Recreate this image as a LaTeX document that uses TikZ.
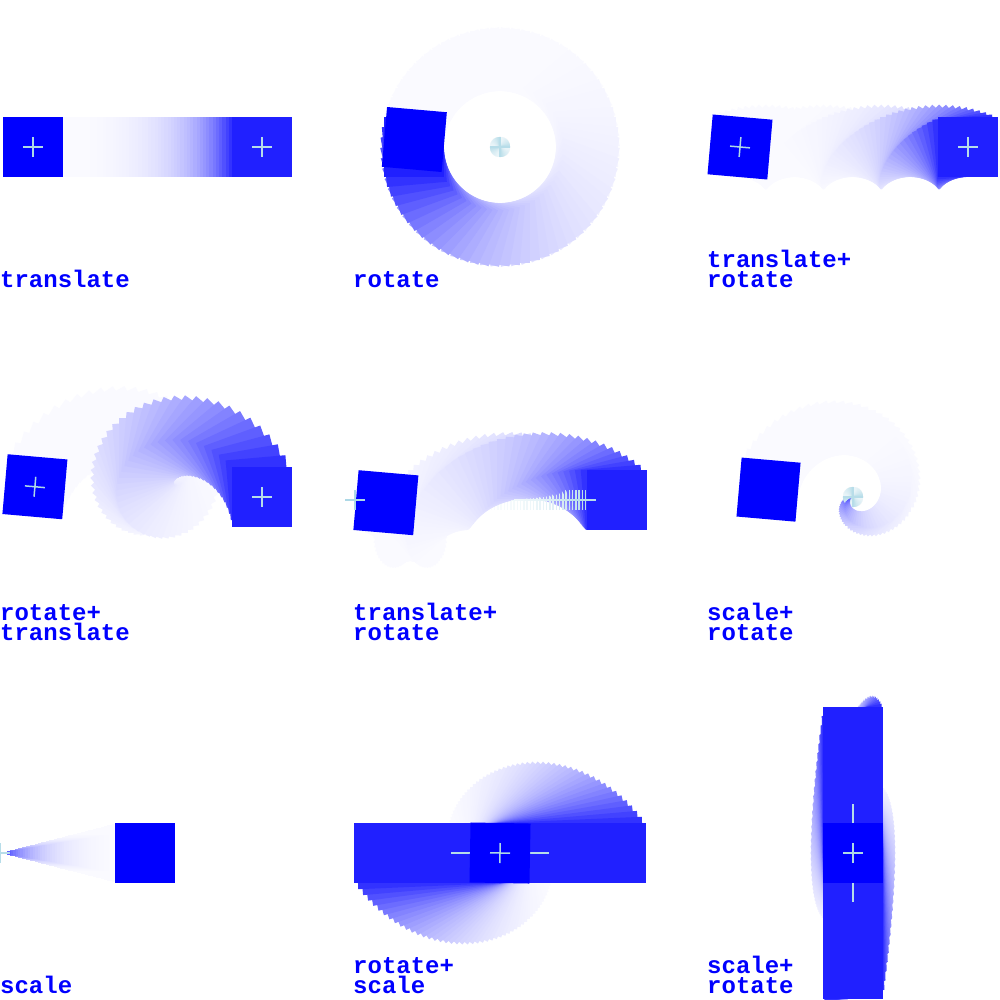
\documentclass[tikz,border=0pt]{standalone}
\usepackage{fontspec}
\newfontfamily\lblfont{Liberation Mono}
\definecolor{lb}{RGB}{173,216,230}
\tikzset{
  crs/.style={line width=1.5pt},
  lbl/.style={anchor=base west, inner sep=0pt, text height=15pt, text depth=1pt, text=blue, font=\lblfont\bfseries\fontsize{24}{24}\selectfont}
}
\begin{document}
\begin{tikzpicture}[x=1pt,y=-1pt]
\useasboundingbox (0,0) rectangle (1000,1000);
\fill[white] (0,0) rectangle (1000,1000);
\begin{scope}
\clip (0,0) rectangle (1000,1000);
% ---------- panel 1: translate
\foreach \k in {1,...,72}{
  \pgfmathsetmacro\tv{\k/72}
  \pgfmathsetmacro\pv{max(87.5*pow(0.92,72-\k),2)}
  \begin{scope}[shift={(29.8+232.2*\tv,147)}]
    \fill[blue!\pv!white] (-30,-30) -- (30,-30) -- (30,30) -- (-30,30) -- cycle;
    \draw[crs, lb!\pv!white] (-10,0) -- (10,0) (0,-10) -- (0,10);
  \end{scope}
}
\begin{scope}[shift={(33,147)}]
  \fill[blue] (-30,-30) -- (30,-30) -- (30,30) -- (-30,30) -- cycle;
  \draw[crs, lb] (-10,0) -- (10,0) (0,-10) -- (0,10);
\end{scope}
% ---------- panel 2: rotate
\foreach \k in {1,...,72}{
  \pgfmathsetmacro\tv{\k/72}
  \pgfmathsetmacro\pv{max(87.5*pow(0.92,72-\k),2)}
  \begin{scope}[shift={(500,147)}, rotate=-180-360*\tv]
    \fill[blue!\pv!white, shift={(86,0)}] (-30,-30) -- (30,-30) -- (30,30) -- (-30,30) -- cycle;
    \draw[crs, lb!\pv!white] (-10,0) -- (10,0) (0,-10) -- (0,10);
  \end{scope}
}
\begin{scope}[shift={(500,147)}, rotate=-185, shift={(86,0)}]
  \fill[blue] (-30,-30) -- (30,-30) -- (30,30) -- (-30,30) -- cycle;
\end{scope}
% ---------- panel 3: translate + rotate
\foreach \k in {1,...,72}{
  \pgfmathsetmacro\tv{\k/72}
  \pgfmathsetmacro\pv{max(87.5*pow(0.92,72-\k),2)}
  \begin{scope}[shift={(736.8+231.2*\tv,147)}, rotate=-360*\tv]
    \fill[blue!\pv!white] (-30,-30) -- (30,-30) -- (30,30) -- (-30,30) -- cycle;
    \draw[crs, lb!\pv!white] (-10,0) -- (10,0) (0,-10) -- (0,10);
  \end{scope}
}
\begin{scope}[shift={(740,147)}, rotate=-5]
  \fill[blue] (-30,-30) -- (30,-30) -- (30,30) -- (-30,30) -- cycle;
  \draw[crs, lb] (-10,0) -- (10,0) (0,-10) -- (0,10);
\end{scope}
% ---------- panel 4: rotate + translate
\foreach \k in {1,...,72}{
  \pgfmathsetmacro\tv{\k/72}
  \pgfmathsetmacro\pv{max(87.5*pow(0.92,72-\k),2)}
  \begin{scope}[shift={(152,500)}, rotate=-360*\tv, shift={(-121+231*\tv,-3)}]
    \fill[blue!\pv!white] (-30,-30) -- (30,-30) -- (30,30) -- (-30,30) -- cycle;
    \draw[crs, lb!\pv!white] (-10,0) -- (10,0) (0,-10) -- (0,10);
  \end{scope}
}
\begin{scope}[shift={(152,500)}, rotate=-5, shift={(-117.8,-3)}]
  \fill[blue] (-30,-30) -- (30,-30) -- (30,30) -- (-30,30) -- cycle;
  \draw[crs, lb] (-10,0) -- (10,0) (0,-10) -- (0,10);
\end{scope}
% ---------- panel 5: translate + rotate (offset square)
\foreach \k in {1,...,72}{
  \pgfmathsetmacro\tv{\k/72}
  \pgfmathsetmacro\pv{max(87.5*pow(0.92,72-\k),2)}
  \begin{scope}[shift={(351.8+233.8*\tv,500)}]
    \fill[blue!\pv!white, rotate=-360*\tv, shift={(31,0)}] (-30,-30) -- (30,-30) -- (30,30) -- (-30,30) -- cycle;
    \draw[crs, lb!\pv!white] (-10,0) -- (10,0) (0,-10) -- (0,10);
  \end{scope}
}
\begin{scope}[shift={(355,500)}]
  \fill[blue, rotate=-5, shift={(31,0)}] (-30,-30) -- (30,-30) -- (30,30) -- (-30,30) -- cycle;
  \draw[crs, lb] (-10,0) -- (10,0) (0,-10) -- (0,10);
\end{scope}
% ---------- panel 6: scale + rotate (spiral)
\foreach \k in {1,...,72}{
  \pgfmathsetmacro\tv{\k/72}
  \pgfmathsetmacro\pv{max(87.5*pow(0.92,72-\k),2)}
  \begin{scope}[shift={(853,497)}, rotate=-180-360*\tv]
    \fill[blue!\pv!white, scale=1-0.995*\tv, shift={(86,0)}] (-30,-30) -- (30,-30) -- (30,30) -- (-30,30) -- cycle;
    \draw[crs, lb!\pv!white] (-10,0) -- (10,0) (0,-10) -- (0,10);
  \end{scope}
}
\begin{scope}[shift={(853,497)}, rotate=-185, scale=0.986, shift={(86,0)}]
  \fill[blue] (-30,-30) -- (30,-30) -- (30,30) -- (-30,30) -- cycle;
\end{scope}
% ---------- panel 7: scale
\foreach \k in {1,...,72}{
  \pgfmathsetmacro\tv{\k/72}
  \pgfmathsetmacro\pv{max(87.5*pow(0.92,72-\k),2)}
  \fill[blue!\pv!white, shift={(0,853)}, scale=1-0.995*\tv, shift={(147,0)}] (-30,-30) -- (30,-30) -- (30,30) -- (-30,30) -- cycle;
  \draw[crs, lb!\pv!white, shift={(0,853)}] (-10,0) -- (10,0) (0,-10) -- (0,10);
}
\begin{scope}[shift={(0,853)}, scale=0.986, shift={(147,0)}]
  \fill[blue] (-30,-30) -- (30,-30) -- (30,30) -- (-30,30) -- cycle;
\end{scope}
% ---------- panel 8: rotate + scale
\foreach \k in {1,...,72}{
  \pgfmathsetmacro\tv{\k/72}
  \pgfmathsetmacro\pv{max(87.5*pow(0.92,72-\k),2)}
  \pgfmathsetmacro\sv{pow(4.88,\tv)}
  \begin{scope}[shift={(500,853)}, rotate=-180*\tv, xscale=\sv]
    \fill[blue!\pv!white] (-30,-30) -- (30,-30) -- (30,30) -- (-30,30) -- cycle;
    \draw[crs, lb!\pv!white] (-10,0) -- (10,0) (0,-10) -- (0,10);
  \end{scope}
}
\begin{scope}[shift={(500,853)}, rotate=-1]
  \fill[blue] (-30,-30) -- (30,-30) -- (30,30) -- (-30,30) -- cycle;
  \draw[crs, lb] (-10,0) -- (10,0) (0,-10) -- (0,10);
\end{scope}
% ---------- panel 9: scale + rotate
\foreach \k in {1,...,72}{
  \pgfmathsetmacro\tv{\k/72}
  \pgfmathsetmacro\pv{max(87.5*pow(0.92,72-\k),2)}
  \pgfmathsetmacro\sv{pow(4.88,\tv)}
  \begin{scope}[shift={(853,853)}, yscale=\sv, rotate=-180*\tv]
    \fill[blue!\pv!white] (-30,-30) -- (30,-30) -- (30,30) -- (-30,30) -- cycle;
    \draw[crs, lb!\pv!white] (-10,0) -- (10,0) (0,-10) -- (0,10);
  \end{scope}
}
\begin{scope}[shift={(853,853)}]
  \fill[blue] (-30,-30) -- (30,-30) -- (30,30) -- (-30,30) -- cycle;
  \draw[crs, lb] (-10,0) -- (10,0) (0,-10) -- (0,10);
\end{scope}
\end{scope}
% ---------- labels
\node[lbl] (l1) at (0,287) {translate};
\node[lbl] (l2) at (353,287) {rotate};
\node[lbl] (l3a) at (707,267) {translate+};
\node[lbl] (l3b) at (707,287) {rotate};
\node[lbl] (l4a) at (0,620) {rotate+};
\node[lbl] (l4b) at (0,640) {translate};
\node[lbl] (l5a) at (353,620) {translate+};
\node[lbl] (l5b) at (353,640) {rotate};
\node[lbl] (l6a) at (707,620) {scale+};
\node[lbl] (l6b) at (707,640) {rotate};
\node[lbl] (l7) at (0,993) {scale};
\node[lbl] (l8a) at (353,973) {rotate+};
\node[lbl] (l8b) at (353,993) {scale};
\node[lbl] (l9a) at (707,973) {scale+};
\node[lbl] (l9b) at (707,993) {rotate};
\end{tikzpicture}
\end{document}
